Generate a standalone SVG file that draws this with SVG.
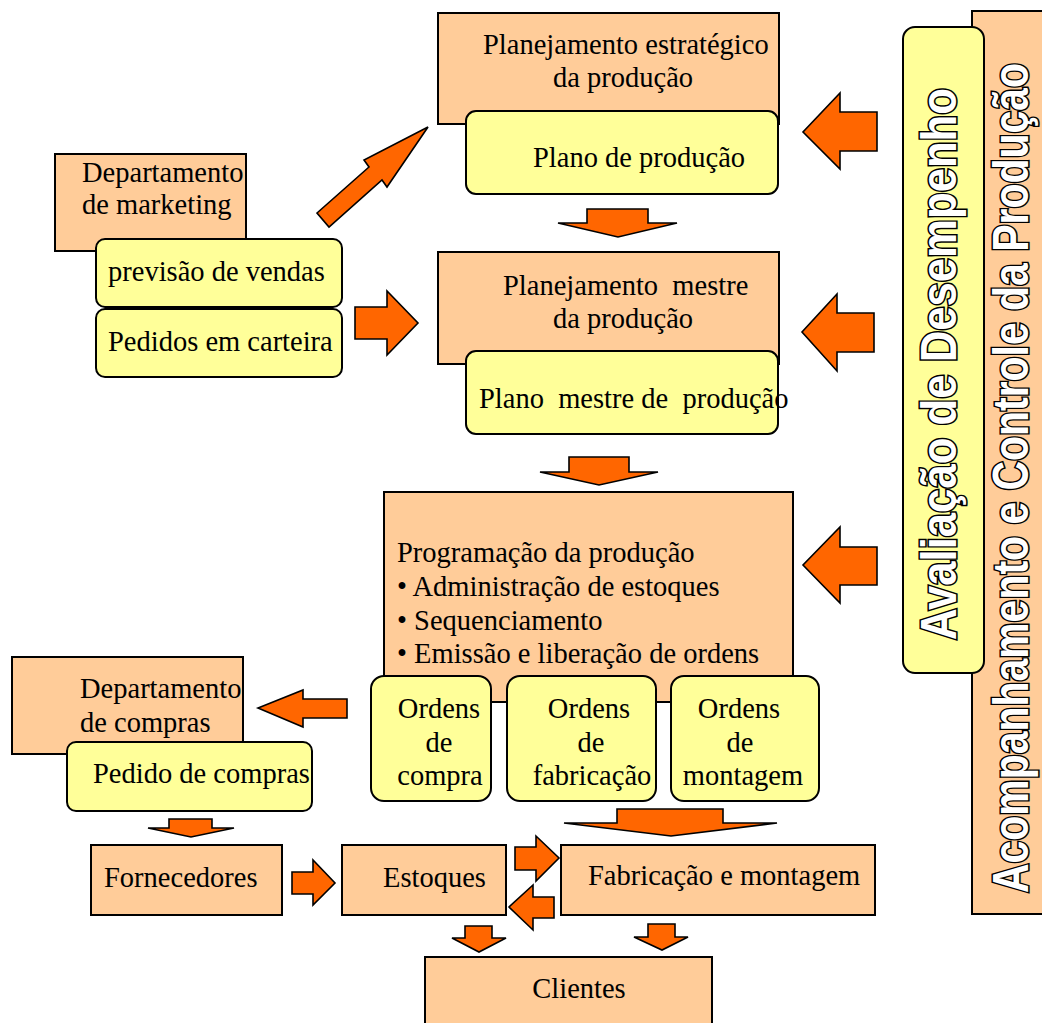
<svg xmlns="http://www.w3.org/2000/svg" width="1042" height="1023" viewBox="0 0 1042 1023">
<defs>
<style>
.box{fill:#FFCC99;stroke:#000;stroke-width:2}
.yel{fill:#FFFF99;stroke:#000;stroke-width:2}
.arr{fill:#FF6600;stroke:#000;stroke-width:1.6;stroke-linejoin:miter}
.t{font-family:"Liberation Serif","Times New Roman",serif;font-size:28.5px;fill:#000;white-space:pre}
.c{text-anchor:middle}
.v{font-family:"Liberation Sans",Arial,sans-serif;font-weight:bold;font-size:50px;fill:#fff;stroke:#000;stroke-width:3.2;text-anchor:middle;paint-order:stroke}
</style>
</defs>
<rect width="1042" height="1023" fill="#fff"/>

<g id="acompanhamento">
<rect class="box" x="972" y="11" width="90" height="903"/>
</g>
<g id="avaliacao">
<rect class="yel" x="903" y="27" width="81" height="646" rx="12"/>
<text class="v" transform="translate(956,364) rotate(-90)" textLength="552" lengthAdjust="spacingAndGlyphs">Avaliação de Desempenho</text>
</g>
<g id="acompanhamento-text">
<text class="v" transform="translate(1028,478) rotate(-90)" textLength="830" lengthAdjust="spacingAndGlyphs">Acompanhamento e Controle da Produção</text>
</g>

<g id="estrategico">
<rect class="box" x="438" y="13" width="341" height="111"/>
<text class="t" x="483" y="54">Planejamento estratégico</text>
<text class="t" x="553" y="87">da produção</text>
<rect class="yel" x="466" y="111" width="312" height="83" rx="10"/>
<text class="t" x="533" y="167">Plano de produção</text>
</g>

<g id="mestre">
<rect class="box" x="438" y="252" width="341" height="112"/>
<text class="t" x="503" y="295">Planejamento  mestre</text>
<text class="t" x="553" y="328">da produção</text>
<rect class="yel" x="466" y="351" width="312" height="83" rx="10"/>
<text class="t" x="479" y="408">Plano  mestre de  produção</text>
</g>

<g id="marketing">
<rect class="box" x="55" y="154" width="191" height="97"/>
<text class="t" x="82" y="182">Departamento</text>
<text class="t" x="82" y="214">de marketing</text>
</g>
<g id="previsao">
<rect class="yel" x="96" y="239" width="246" height="68" rx="9"/>
<text class="t" x="108" y="281">previsão de vendas</text>
</g>
<g id="pedidos">
<rect class="yel" x="96" y="309" width="246" height="68" rx="9"/>
<text class="t" x="108" y="351">Pedidos em carteira</text>
</g>

<g id="programacao">
<rect class="box" x="384" y="492" width="409" height="210"/>
<text class="t" x="397" y="562">Programação da produção</text>
<text class="t" x="397" y="596">• Administração de estoques</text>
<text class="t" x="397" y="630">• Sequenciamento</text>
<text class="t" x="397" y="663">• Emissão e liberação de ordens</text>
</g>
<g id="ordens-compra">
<rect class="yel" x="371" y="676" width="120" height="125" rx="13"/>
<text class="t c" x="439" y="718">Ordens</text>
<text class="t c" x="439" y="752">de</text>
<text class="t c" x="440" y="785">compra</text>
</g>
<g id="ordens-fabricacao">
<rect class="yel" x="507" y="676" width="149" height="125" rx="13"/>
<text class="t c" x="589" y="718">Ordens</text>
<text class="t c" x="591" y="752">de</text>
<text class="t c" x="592" y="785">fabricação</text>
</g>
<g id="ordens-montagem">
<rect class="yel" x="671" y="676" width="148" height="125" rx="13"/>
<text class="t c" x="739" y="718">Ordens</text>
<text class="t c" x="740" y="752">de</text>
<text class="t c" x="743" y="785">montagem</text>
</g>

<g id="compras">
<rect class="box" x="12" y="657" width="231" height="97"/>
<text class="t" x="80" y="698">Departamento</text>
<text class="t" x="80" y="732">de compras</text>
<rect class="yel" x="67" y="742" width="245" height="69" rx="9"/>
<text class="t" x="93" y="783">Pedido de compras</text>
</g>

<g id="fornecedores">
<rect class="box" x="91" y="845" width="191" height="70"/>
<text class="t" x="104" y="887">Fornecedores</text>
</g>
<g id="estoques">
<rect class="box" x="342" y="845" width="164" height="70"/>
<text class="t" x="383" y="887">Estoques</text>
</g>
<g id="fabricacao">
<rect class="box" x="561" y="845" width="314" height="70"/>
<text class="t" x="588" y="885">Fabricação e montagem</text>
</g>
<g id="clientes">
<rect class="box" x="425" y="957" width="287" height="80"/>
<text class="t c" x="579" y="998">Clientes</text>
</g>

<g id="connectors">
<polygon class="arr" points="317,213 369,167 364,160 428,127 387,187 382,180 329,227"/>
<polygon class="arr" points="587,209 648,209 648,223 677,223 618,237 558,223 587,223"/>
<polygon class="arr" points="569,457 629,457 629,472 658,472 599,485 540,472 569,472"/>
<polygon class="arr" points="617,809 723,809 723,823 777,823 671,836 564,823 617,823"/>
<polygon class="arr" points="169,819 212,819 212,828 234,828 191,837 148,828 169,828"/>
<polygon class="arr" points="465,926 492,926 492,938 506,938 479,952 452,938 465,938"/>
<polygon class="arr" points="648,924 675,924 675,937 688,937 662,950 634,937 648,937"/>
<polygon class="arr" points="355,307 387,307 387,291 418,323 387,355 387,339 355,339"/>
<polygon class="arr" points="292,872 313,872 313,860 335,883 313,905 313,894 292,894"/>
<polygon class="arr" points="515,847 536,847 536,836 559,858 536,881 536,870 515,870"/>
<polygon class="arr" points="554,897 533,897 533,885 509,907 533,930 533,918 554,918"/>
<polygon class="arr" points="347,699 303,699 303,690 258,708 303,727 303,718 347,718"/>
<polygon class="arr" points="877,112 840,112 840,93 803,132 840,169 840,151 877,151"/>
<polygon class="arr" points="874,313 837,313 837,294 802,332 837,371 837,352 874,352"/>
<polygon class="arr" points="877,547 840,547 840,527 803,565 840,603 840,585 877,585"/>
</g>
</svg>
